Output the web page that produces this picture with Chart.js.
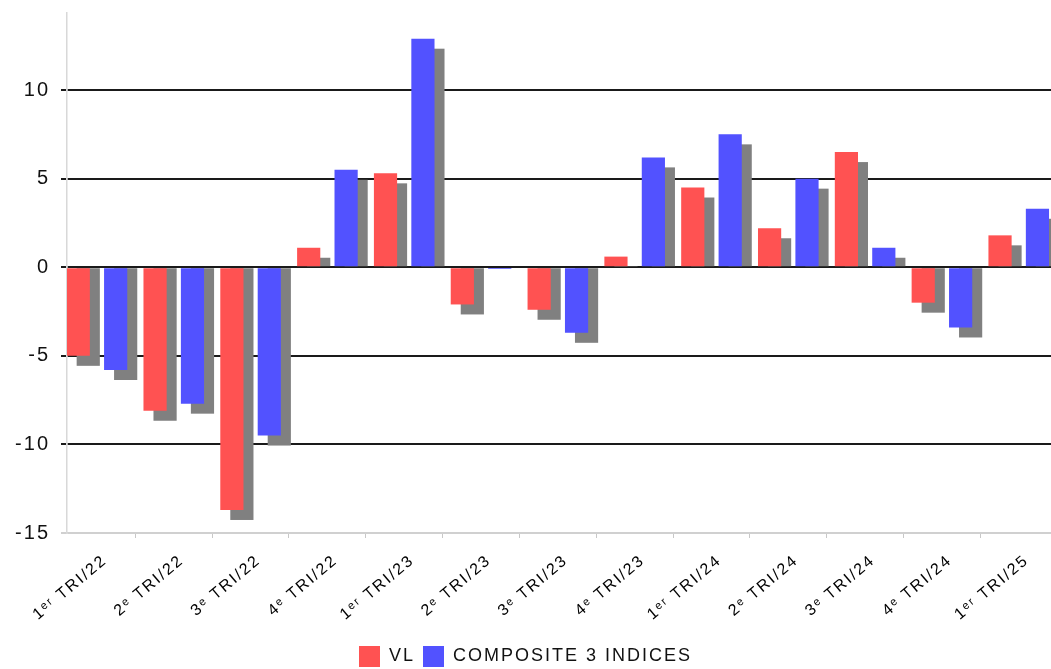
<!DOCTYPE html>
<html>
<head>
<meta charset="utf-8">
<script src="https://cdn.jsdelivr.net/npm/chart.js@4"></script>
<style>
  html, body { margin: 0; padding: 0; background: #fff; overflow: hidden; }
  #wrap { position: relative; width: 1051px; height: 669px; }
</style>
</head>
<body>
<div id="wrap"><canvas id="myChart"></canvas></div>
<script>
// quarters shown on the x axis
const categories = ["1ᵉʳ TRI/22", "2ᵉ TRI/22", "3ᵉ TRI/22", "4ᵉ TRI/22",
                    "1ᵉʳ TRI/23", "2ᵉ TRI/23", "3ᵉ TRI/23", "4ᵉ TRI/23",
                    "1ᵉʳ TRI/24", "2ᵉ TRI/24", "3ᵉ TRI/24", "4ᵉ TRI/24",
                    "1ᵉʳ TRI/25"];
const vl = [-5.0, -8.1, -13.7, 1.1, 5.3, -2.1, -2.4, 0.6, 4.5, 2.2, 6.5, -2.0, 1.8];
const composite = [-5.8, -7.7, -9.5, 5.5, 12.9, -0.1, -3.7, 6.2, 7.5, 5.0, 1.1, -3.4, 3.3];
const yTicks = [-15, -10, -5, 0, 5, 10];

// the source renders its text with wide letter spacing
const wideText = {
    id: 'wideText',
    beforeLayout(chart) { chart.ctx.letterSpacing = '2px'; },
    beforeDraw(chart) { chart.ctx.letterSpacing = '2px'; }
};

// grey drop shadow behind each bar (offset right and down)
const barShadow = {
    id: 'barShadow',
    beforeDatasetsDraw(chart) {
        const ctx = chart.ctx;
        const area = chart.chartArea;
        ctx.save();
        ctx.beginPath();
        ctx.rect(area.left, area.top, area.right - area.left, area.bottom - area.top);
        ctx.clip();
        ctx.fillStyle = '#808080';
        chart.data.datasets.forEach((ds, i) => {
            chart.getDatasetMeta(i).data.forEach(bar => {
                const p = bar.getProps(['x', 'y', 'base', 'width']);
                if (Math.abs(p.y - p.base) < 3) return;
                const end = p.y + 10;
                ctx.fillRect(p.x - p.width / 2 + 10, Math.min(p.base, end), p.width, Math.abs(end - p.base));
            });
        });
        ctx.restore();
    }
};

let myChart = document.getElementById("myChart").getContext("2d");
let quarterChart = new Chart(myChart, {
    type: 'bar',
    data: {
        datasets: [{
            label: "VL",
            data: vl.map((v, i) => ({x: i, y: v})),
            backgroundColor: '#ff5252',
            borderWidth: 0
        }, {
            label: "COMPOSITE 3 INDICES",
            data: composite.map((v, i) => ({x: i, y: v})),
            backgroundColor: '#5252ff',
            borderWidth: 0
        }]
    },
    plugins: [wideText, barShadow],
    options: {
        responsive: true,
        maintainAspectRatio: false,
        animation: false,
        barPercentage: 0.62,
        categoryPercentage: 0.974,
        layout: { padding: { top: 13, right: 0, left: 0, bottom: -8 } },
        plugins: {
            tooltip: { enabled: false },
            legend: {
                position: 'bottom',
                labels: {
                    boxWidth: 21,
                    boxHeight: 21,
                    padding: 8,
                    color: '#111',
                    font: { family: 'Liberation Sans', size: 18 }
                }
            }
        },
        scales: {
            x: {
                type: 'linear',
                min: -0.39,
                max: 12.42,
                offset: false,
                afterFit: (s) => { s.height = 105; },
                grid: {
                    drawOnChartArea: false,
                    drawTicks: true,
                    tickLength: 5,
                    color: '#c8c8c8'
                },
                border: { display: true, color: '#d0d0d0', width: 1.5 },
                ticks: {
                    stepSize: 1,
                    includeBounds: false,
                    autoSkip: false,
                    minRotation: 40,
                    maxRotation: 40,
                    padding: 13,
                    labelOffset: 8,
                    color: '#000',
                    font: { family: 'Liberation Sans', size: 16 },
                    callback: (v) => categories[v]
                }
            },
            y: {
                min: -15,
                max: 14.35,
                afterFit: (s) => { s.width = 67; s.paddingTop = 0; s.paddingBottom = 0; },
                afterBuildTicks: (s) => { s.ticks = yTicks.map(v => ({value: v})); },
                grid: {
                    color: (c) => c.tick && c.tick.value === -15 ? '#d0d0d0' : '#1a1a1a',
                    lineWidth: 2,
                    tickLength: 6
                },
                border: { display: true, color: '#d8d8d8', width: 1.5 },
                ticks: {
                    stepSize: 5,
                    includeBounds: false,
                    padding: 11,
                    color: '#111',
                    font: { family: 'Liberation Sans', size: 20 }
                }
            }
        }
    }
});
</script>
</body>
</html>
